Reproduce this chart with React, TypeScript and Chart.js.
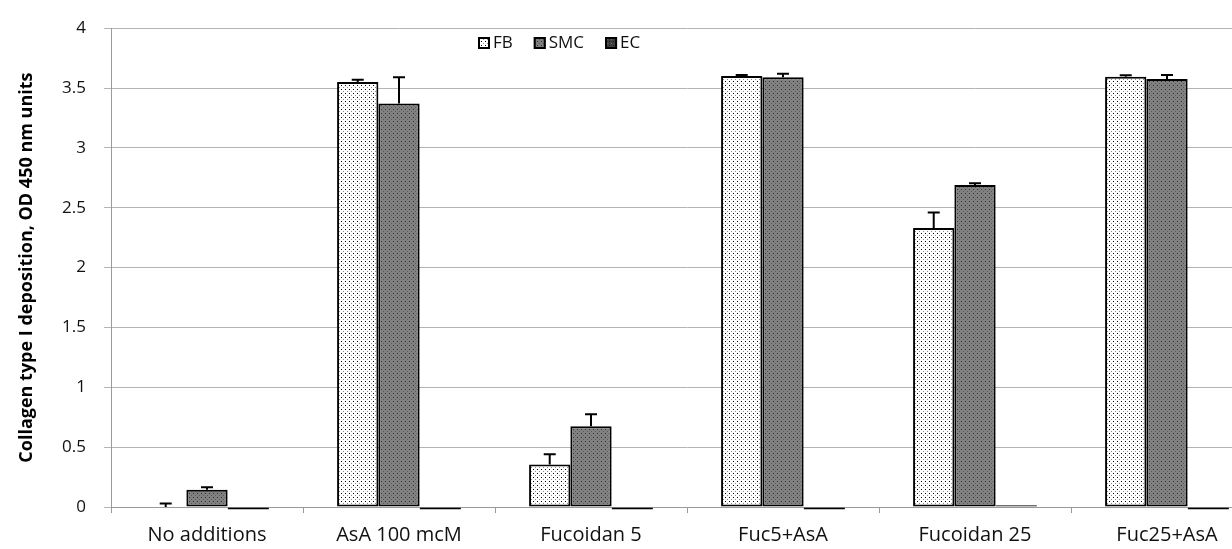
import React, { useEffect, useRef } from "react";
import { Chart, registerables } from "chart.js";

Chart.register(...registerables);

const categories = ["No additions", "AsA 100 mcM", "Fucoidan 5", "Fuc5+AsA", "Fucoidan 25", "Fuc25+AsA"];
const seriesNames = ["FB", "SMC", "EC"];
const fbValues = [0, 3.55, 0.355, 3.6, 2.33, 3.595];
const fbErrors = [0.03, 0.02, 0.085, 0.01, 0.13, 0.012];
const smcValues = [0.145, 3.37, 0.675, 3.59, 2.69, 3.575];
const smcErrors = [0.02, 0.22, 0.1, 0.03, 0.015, 0.035];
const ecValues = [-0.02, -0.02, -0.02, -0.02, 0.015, -0.02];
const ecErrors = [0, 0, 0, 0, 0, 0];
const yTickValues = [0, 0.5, 1, 1.5, 2, 2.5, 3, 3.5, 4];
const yTickLabels = ["0", "0.5", "1", "1.5", "2", "2.5", "3", "3.5", "4"];
const yTitle = "Collagen type I deposition, OD 450 nm units";

const FONT = "'Open Sans', 'DejaVu Sans', sans-serif";

function makePattern(bg: string, dot: string, dot2: string): CanvasPattern | string {
  const c = document.createElement("canvas");
  c.width = 4;
  c.height = 4;
  const g = c.getContext("2d");
  if (!g) return bg;
  g.fillStyle = bg;
  g.fillRect(0, 0, 4, 4);
  g.fillStyle = dot;
  g.fillRect(1, 1, 1, 1);
  g.fillStyle = dot2;
  g.fillRect(3, 3, 1, 1);
  const p = g.createPattern(c, "repeat");
  return p || bg;
}

const errorBarPlugin = {
  id: "errorBars",
  afterDatasetsDraw(chart: any) {
    const ctx = chart.ctx;
    const y = chart.scales.y;
    chart.data.datasets.forEach((ds: any, i: number) => {
      const errs: number[] = ds.errors;
      if (!errs) return;
      const meta = chart.getDatasetMeta(i);
      meta.data.forEach((bar: any, j: number) => {
        const e = errs[j];
        if (!e) return;
        const v = ds.data[j] as number;
        const top = y.getPixelForValue(v + e);
        const base = y.getPixelForValue(v);
        ctx.save();
        ctx.strokeStyle = "#000";
        ctx.lineWidth = 2;
        ctx.beginPath();
        ctx.moveTo(bar.x, base);
        ctx.lineTo(bar.x, top);
        ctx.moveTo(bar.x - 6, top);
        ctx.lineTo(bar.x + 6, top);
        ctx.stroke();
        ctx.restore();
      });
    });
  },
};

const legendPlugin = {
  id: "customLegend",
  afterDraw(chart: any) {
    const ctx = chart.ctx;
    let x = 478;
    const yc = 43;
    ctx.save();
    ctx.font = `17px ${FONT}`;
    ctx.textBaseline = "middle";
    ctx.textAlign = "left";
    chart.data.datasets.forEach((ds: any) => {
      ctx.fillStyle = ds.backgroundColor;
      ctx.fillRect(x, yc - 6, 12, 12);
      ctx.strokeStyle = "#000";
      ctx.lineWidth = 2;
      ctx.strokeRect(x + 1, yc - 5, 10, 10);
      ctx.fillStyle = "#111";
      ctx.fillText(ds.label, x + 15, yc);
      x += 15 + ctx.measureText(ds.label).width + 21;
    });
    ctx.restore();
  },
};

export default function App() {
  const ref = useRef<HTMLCanvasElement | null>(null);

  useEffect(() => {
    if (!ref.current) return;
    const fbPat = makePattern("#ffffff", "#000000", "#8a8a8a");
    const smcPat = makePattern("#808080", "#303030", "#5a5a5a");
    const ecPat = makePattern("#404040", "#1a1a1a", "#6a6a6a");
    const chart = new Chart(ref.current, {
      type: "bar",
      data: {
        labels: categories,
        datasets: [
          { label: seriesNames[0], data: fbValues, errors: fbErrors, backgroundColor: fbPat, borderColor: "#000", borderWidth: 2, borderSkipped: false, clip: false } as any,
          { label: seriesNames[1], data: smcValues, errors: smcErrors, backgroundColor: smcPat, borderColor: "#000", borderWidth: 2, borderSkipped: false, clip: false } as any,
          { label: seriesNames[2], data: ecValues, errors: ecErrors, backgroundColor: ecPat, borderColor: "#000", borderWidth: 2, borderSkipped: false, clip: false } as any,
        ],
      },
      options: {
        responsive: false,
        animation: false,
        events: [],
        layout: { padding: { left: 0, right: 7, top: 17, bottom: 0 } },
        datasets: { bar: { categoryPercentage: 0.645, barPercentage: 1 } },
        plugins: { legend: { display: false }, tooltip: { enabled: false } },
        scales: {
          x: {
            afterFit: (s: any) => { s.height = 42; },
            grid: { drawOnChartArea: false, drawTicks: true, tickLength: 6, color: "#9a9a9a", offset: true },
            border: { color: "#9a9a9a", width: 1 },
            ticks: { color: "#111", font: { family: FONT, size: 20 }, padding: 10, maxRotation: 0, autoSkip: false },
          },
          y: {
            min: 0,
            max: 4,
            afterFit: (s: any) => { s.width = 111; },
            afterBuildTicks: (s: any) => { s.ticks = yTickValues.map((v) => ({ value: v })); },
            grid: { color: "#b4b4b4", lineWidth: 1, drawTicks: true, tickLength: 7 },
            border: { color: "#9a9a9a", width: 1 },
            ticks: {
              color: "#111",
              font: { family: FONT, size: 17 },
              padding: 18,
              callback: (_v: any, i: number) => yTickLabels[i],
            },
            title: {
              display: true,
              text: yTitle,
              color: "#000",
              font: { family: FONT, size: 18, weight: "bold" },
              padding: { top: 16, bottom: 0 },
            },
          },
        },
      },
      plugins: [errorBarPlugin, legendPlugin],
    } as any);
    return () => chart.destroy();
  }, []);

  return (
    <div style={{ position: "absolute", left: 0, top: 0, width: 1232, height: 549, overflow: "hidden", background: "#fff" }}>
      <canvas ref={ref} width={1270} height={549} />
    </div>
  );
}
